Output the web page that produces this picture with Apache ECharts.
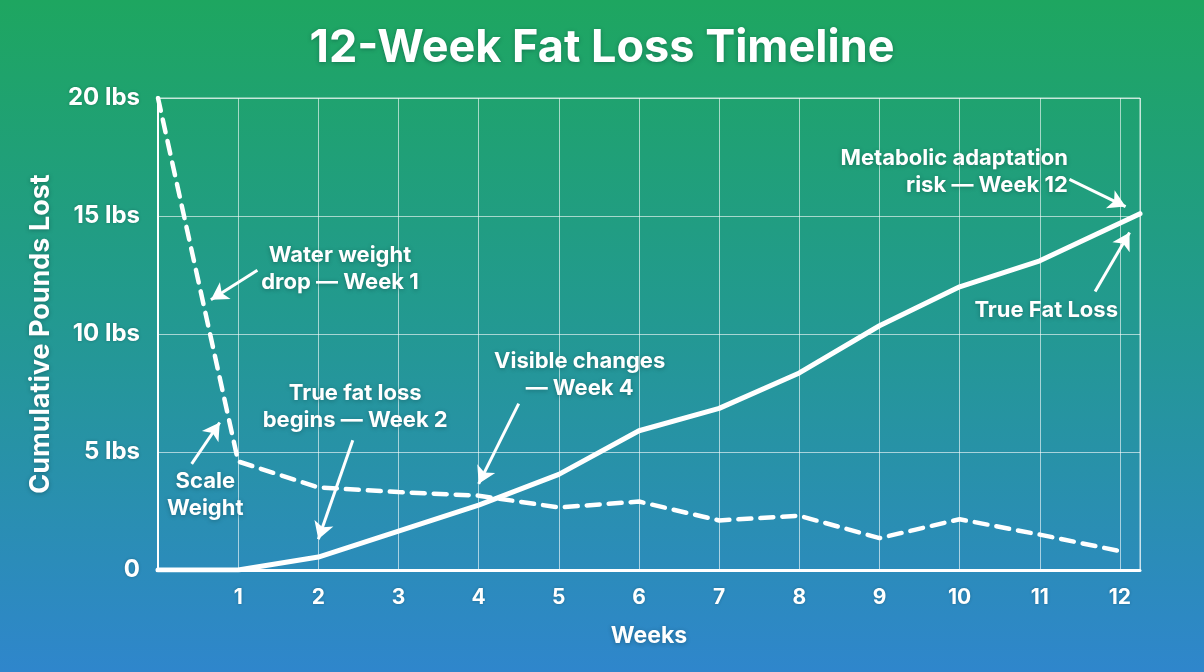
<!DOCTYPE html>
<html>
<head>
<meta charset="utf-8">
<script src="https://cdn.jsdelivr.net/npm/echarts@6/dist/echarts.min.js"></script>
<style>
    html, body { margin: 0; padding: 0; }
    #FatLoss { width: 1204px; height: 672px; }
</style>
</head>
<body>
<div id="FatLoss"></div>
<script>
// weeks 0..12
var weeks = [0, 1, 2, 3, 4, 5, 6, 7, 8, 9, 10, 11, 12];
var scaleWeight = [20, 4.6, 3.5, 3.3, 3.15, 2.65, 2.9, 2.1, 2.3, 1.35, 2.15, 1.5, 0.8];
// true fat loss runs on to the right edge of the plot
var fatWeeks = [0, 1, 2, 3, 4, 5, 6, 7, 8, 9, 10, 11, 12.25];
var fatLoss = [0, 0, 0.55, 1.65, 2.75, 4.05, 5.9, 6.85, 8.35, 10.35, 12.0, 13.1, 15.1];
var weekLabels = ['1', '2', '3', '4', '5', '6', '7', '8', '9', '10', '11', '12'];
var lbsLabels = ['0', '5 lbs', '10 lbs', '15 lbs', '20 lbs'];

// annotations: text spot and arrow (tail -> tip), in data units
var notes = [
    { text: 'Water weight\ndrop \u2014 Week 1', at: [2.27, 12.75], from: [1.24, 12.7], to: [0.66, 11.45] },
    { text: 'Scale\nWeight', at: [0.59, 3.2], from: [0.42, 4.5], to: [0.77, 6.25] },
    { text: 'True fat loss\nbegins \u2014 Week 2', at: [2.46, 6.9], from: [2.43, 5.5], to: [2.0, 1.3] },
    { text: 'Visible changes\n\u2014 Week 4', at: [5.26, 8.25], from: [4.5, 7.05], to: [4.0, 3.65] },
    { text: 'True Fat Loss', at: [11.08, 11.0], from: [11.69, 11.8], to: [12.12, 14.3] }
];
var metaNote = { text: 'Metabolic adaptation\nrisk \u2014 Week 12', at: [11.35, 16.85], from: [11.37, 16.55], to: [12.07, 15.4] };

var FONT = 'Inter';
var shadow = { textShadowColor: 'rgba(0,40,40,0.35)', textShadowBlur: 4, textShadowOffsetY: 1 };

function pairs(xs, ys) {
    var out = [];
    for (var i = 0; i < xs.length; i++) out.push([xs[i], ys[i]]);
    return out;
}

var arrowData = notes.concat([metaNote]).map(function (n) {
    return [{ coord: n.from }, { coord: n.to }];
});
var textData = notes.map(function (n) {
    return { coord: n.at, value: n.text, label: { align: 'center' } };
});
textData.push({ coord: metaNote.at, value: metaNote.text, label: { align: 'right' } });

var chart = echarts.init(document.getElementById('FatLoss'));
chart.setOption({
    animation: false,
    backgroundColor: new echarts.graphic.LinearGradient(0, 0, 0, 1, [
        { offset: 0, color: '#1ea660' },
        { offset: 0.45, color: '#229a8e' },
        { offset: 1, color: '#2f86cc' }
    ]),
    title: {
        text: '12-Week Fat Loss Timeline',
        left: 'center',
        top: 21,
        textStyle: Object.assign({ color: '#fff', fontFamily: FONT, fontWeight: 'bold', fontSize: 45 }, shadow)
    },
    grid: {
        left: 158, right: 64, top: 98, bottom: 102,
        show: true,
        borderColor: 'rgba(255,255,255,0.75)',
        borderWidth: 1
    },
    xAxis: {
        type: 'value',
        min: 0, max: 12.25, interval: 1,
        name: 'Weeks',
        nameLocation: 'middle',
        nameGap: 55,
        nameTextStyle: Object.assign({ color: '#fff', fontFamily: FONT, fontWeight: 'bold', fontSize: 23 }, shadow),
        axisLine: { lineStyle: { color: '#fff', width: 3 } },
        axisTick: { show: false },
        splitLine: { lineStyle: { color: 'rgba(255,255,255,0.6)', width: 1 } },
        axisLabel: {
            color: '#fff', fontFamily: FONT, fontWeight: 'bold', fontSize: 21, margin: 17,
            textShadowColor: 'rgba(0,40,40,0.3)', textShadowBlur: 3,
            formatter: function (v) {
                return (v >= 1 && v % 1 === 0) ? weekLabels[v - 1] : '';
            }
        }
    },
    yAxis: {
        type: 'value',
        min: 0, max: 20, interval: 5,
        name: 'Cumulative Pounds Lost',
        nameLocation: 'middle',
        nameGap: 104,
        nameTextStyle: Object.assign({ color: '#fff', fontFamily: FONT, fontWeight: 'bold', fontSize: 27 }, shadow),
        axisLine: { show: true, lineStyle: { color: '#fff', width: 2 } },
        axisTick: { show: false },
        splitLine: { lineStyle: { color: 'rgba(255,255,255,0.6)', width: 1 } },
        axisLabel: {
            color: '#fff', fontFamily: FONT, fontWeight: 'bold', fontSize: 24, margin: 18,
            textShadowColor: 'rgba(0,40,40,0.3)', textShadowBlur: 3,
            formatter: function (v) { return lbsLabels[v / 5]; }
        }
    },
    series: [{
        name: 'Scale Weight',
        type: 'line',
        data: pairs(weeks, scaleWeight),
        showSymbol: false,
        lineStyle: { color: '#fff', width: 4.5, type: [13, 9], cap: 'round' },
        z: 3
    }, {
        name: 'True Fat Loss',
        type: 'line',
        data: pairs(fatWeeks, fatLoss),
        showSymbol: false,
        lineStyle: { color: '#fff', width: 5, cap: 'round', join: 'round' },
        z: 4,
        markLine: {
            silent: true,
            symbol: ['none', 'arrow'],
            symbolSize: [15, 17],
            label: { show: false },
            lineStyle: { color: '#fff', width: 3, type: 'solid' },
            data: arrowData
        },
        markPoint: {
            silent: true,
            symbol: 'circle',
            symbolSize: 0,
            label: Object.assign({
                show: true,
                position: 'inside',
                color: '#fff',
                fontFamily: FONT,
                fontWeight: 'bold',
                fontSize: 22,
                lineHeight: 27,
                verticalAlign: 'middle',
                formatter: function (p) { return p.value; }
            }, shadow),
            data: textData
        }
    }]
});
</script>
</body>
</html>
